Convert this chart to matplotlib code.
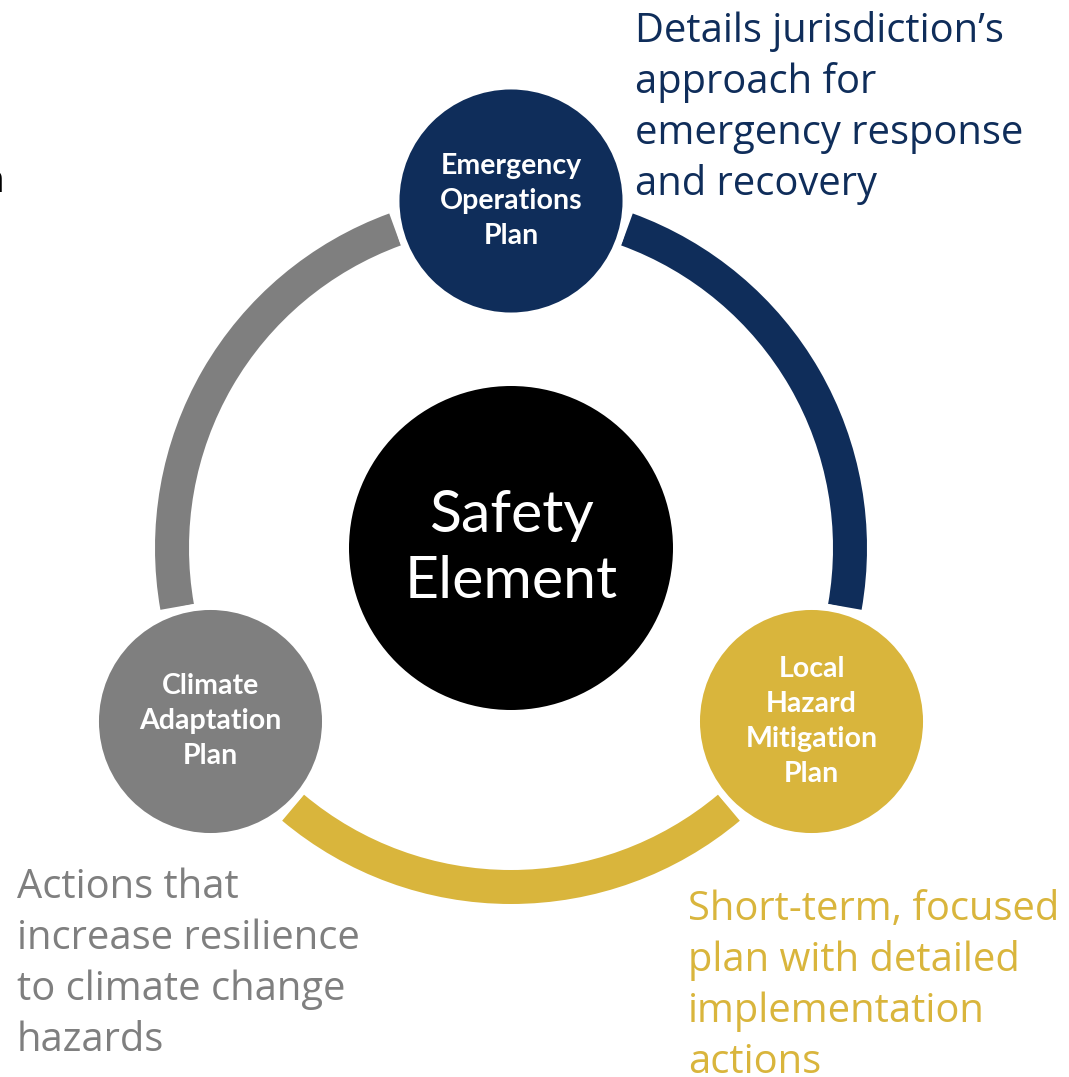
import numpy as np
import matplotlib
matplotlib.use('Agg')
import matplotlib.pyplot as plt
from matplotlib.patches import Circle, Wedge

# canvas in pixels, y measured upward
W, H = 1069, 1077

# plan nodes around the ring (angle in degrees, counter-clockwise from east)
node_labels = ["Emergency\nOperations\nPlan", "Local\nHazard\nMitigation\nPlan", "Climate\nAdaptation\nPlan"]
node_angles = [90, -30, 210]
node_colors = ["#0F2D5A", "#D9B53C", "#7F7F7F"]

# arcs: each arc runs clockwise from node i to node i+1, coloured like node i
arc_gap = 20

# descriptions (lines) next to each plan
desc_lines = [
    ["Details jurisdiction\u2019s", "approach for", "emergency response", "and recovery"],
    ["Short-term, focused", "plan with detailed", "implementation", "actions"],
    ["Actions that", "increase resilience", "to climate change", "hazards"],
]
desc_xy = [(635, H - 42), (688, H - 920), (17, H - 898)]
desc_colors = ["#0F2D5A", "#D9B53C", "#7F7F7F"]

center_label = ["Safety", "Element"]

CX, CY = 511, H - 548
R_RING = 339
RING_W = 34
R_NODE = 347
NODE_RAD = 112
CORE_RAD = 162

fig = plt.figure(figsize=(W / 100, H / 100), dpi=100)
ax = fig.add_axes([0, 0, 1, 1])
ax.set_xlim(0, W)
ax.set_ylim(0, H)
ax.set_aspect('equal')
ax.axis('off')

n = len(node_angles)
for i in range(n):
    a1 = node_angles[i]
    a2 = node_angles[(i + 1) % n]
    # clockwise from a1 to a2
    start = a1 - arc_gap
    end = a2 + arc_gap
    if end > start:
        end -= 360
    ax.add_patch(Wedge((CX, CY), R_RING + RING_W / 2, end, start,
                       width=RING_W, facecolor=node_colors[i], edgecolor='none'))

for label, ang, col in zip(node_labels, node_angles, node_colors):
    x = CX + R_NODE * np.cos(np.radians(ang))
    y = CY + R_NODE * np.sin(np.radians(ang))
    ax.add_patch(Circle((x, y), NODE_RAD + 3, facecolor=col, edgecolor='white', linewidth=5, zorder=3))
    lines = label.split("\n")
    step = 35
    top = y + step * (len(lines) - 1) / 2
    for k, line in enumerate(lines):
        ax.text(x, top - k * step, line, ha='center', va='center', color='white',
                fontsize=20.5, fontweight='bold', family='Lato', zorder=4)

ax.add_patch(Circle((CX, CY), CORE_RAD, facecolor='black', edgecolor='none', zorder=3))
ax.text(CX, H - 532, center_label[0], ha='center', va='baseline', color='white',
        fontsize=42.5, family='Lato', zorder=4)
ax.text(CX, H - 598, center_label[1], ha='center', va='baseline', color='white',
        fontsize=42.5, family='Lato', zorder=4)

for lines, (x0, y0), col in zip(desc_lines, desc_xy, desc_colors):
    for k, line in enumerate(lines):
        ax.text(x0, y0 - k * 51, line, ha='left', va='baseline', color=col,
                fontsize=28.7, family='Open Sans')

# stray letter clipped at the left edge
ax.text(5, H - 192, "n", ha='right', va='baseline', color='black', fontsize=28, family='Open Sans')

fig.savefig('out.png', dpi=100, facecolor='white')
